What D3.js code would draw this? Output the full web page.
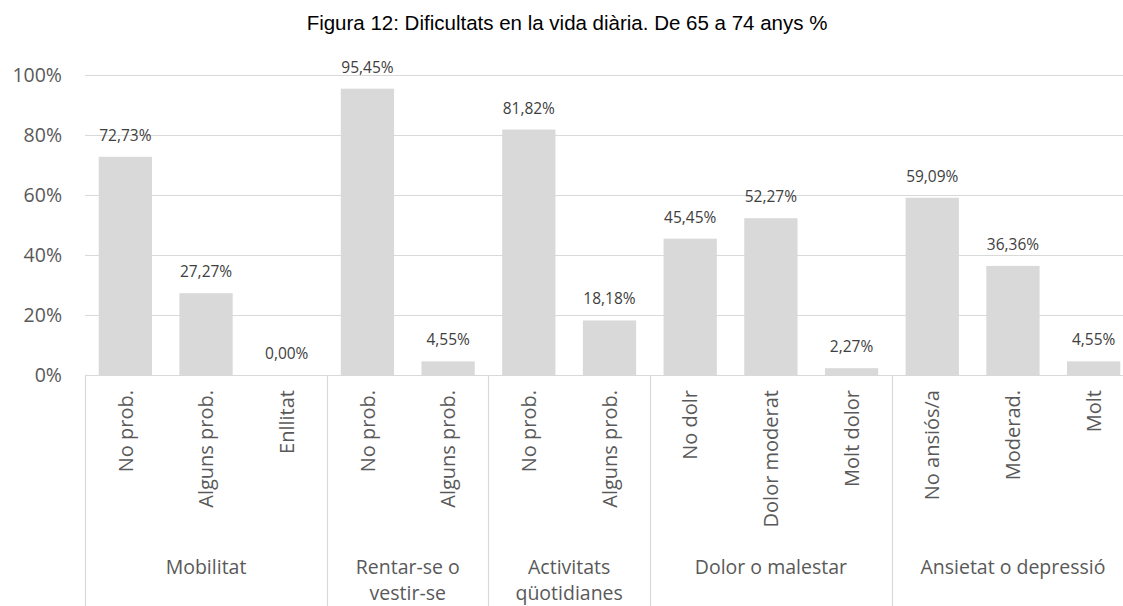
<!DOCTYPE html>
<html><head><meta charset="utf-8">
<script src="https://cdn.jsdelivr.net/npm/d3@7"></script>
<style>
html,body{margin:0;padding:0;background:#fff;}
svg{display:block;}
</style></head>
<body>
<svg id="chart" width="1123" height="606"></svg>
<script>
const title = "Figura 12: Dificultats en la vida diària. De 65 a 74 anys %";
const categories = ["No prob.","Alguns prob.","Enllitat","No prob.","Alguns prob.","No prob.","Alguns prob.","No dolr","Dolor moderat","Molt dolor","No ansiós/a","Moderad.","Molt"];
const values = [72.73,27.27,0.00,95.45,4.55,81.82,18.18,45.45,52.27,2.27,59.09,36.36,4.55];
const groupNames = [["Mobilitat"],["Rentar-se o","vestir-se"],["Activitats","qüotidianes"],["Dolor o malestar"],["Ansietat o depressió"]];
const groupSizes = [3,2,2,3,3];
const yTicks = [0,20,40,60,80,100];

(function(){
const svg = d3.select("#chart");
const pL = 85, pR = 1134, pT = 75, pB = 375;
const idx = d3.range(categories.length);
const x = d3.scaleBand().domain(idx).range([pL, pR]).paddingInner(0.34).paddingOuter(0.17);
const y = d3.scaleLinear().domain([0,100]).range([pB, pT]);
const grid = "#d9d9d9", txt = "#595959", font = "'Open Sans', sans-serif";
const fmt = v => v.toFixed(2).replace(".", ",") + "%";

svg.append("text").attr("x", 567).attr("y", 30).attr("text-anchor","middle")
  .attr("font-family","'Liberation Sans', Arial, sans-serif").attr("font-size",20.5).attr("fill","#000").text(title);

svg.append("g").selectAll("line").data(yTicks).join("line")
  .attr("x1", pL).attr("x2", 1123).attr("y1", d => Math.round(y(d))+0.5).attr("y2", d => Math.round(y(d))+0.5)
  .attr("stroke", grid).attr("stroke-width", 1.2);

svg.append("g").selectAll("text").data(yTicks).join("text")
  .attr("x", 62).attr("y", d => y(d)).attr("dy","0.36em").attr("text-anchor","end")
  .attr("font-family", font).attr("font-size", 19.5).attr("fill", txt).text(d => d + "%");

svg.append("g").selectAll("rect").data(idx).join("rect")
  .attr("x", i => x(i)).attr("width", x.bandwidth())
  .attr("y", i => y(values[i])).attr("height", i => y(0) - y(values[i]))
  .attr("fill", "#d9d9d9");

svg.append("g").selectAll("text").data(idx).join("text")
  .attr("x", i => x(i) + x.bandwidth()/2).attr("y", i => y(values[i]) - 16)
  .attr("text-anchor","middle").attr("font-family", font).attr("font-size", 15.5).attr("fill", "#404040")
  .text(i => fmt(values[i]));

svg.append("g").selectAll("text").data(idx).join("text")
  .attr("transform", i => `translate(${x(i) + x.bandwidth()/2},390) rotate(-90)`)
  .attr("dy","0.36em").attr("text-anchor","end")
  .attr("font-family", font).attr("font-size", 20).attr("fill", txt).text(i => categories[i]);

const step = x.step();
const starts = [0];
groupSizes.forEach((s,k) => starts.push(starts[k] + s));
const bx = k => pL + starts[k] * step;
svg.append("g").selectAll("line").data(d3.range(starts.length)).join("line")
  .attr("x1", k => Math.round(bx(k))+0.5).attr("x2", k => Math.round(bx(k))+0.5)
  .attr("y1", pB).attr("y2", 606).attr("stroke", grid).attr("stroke-width", 1.2);

const gl = svg.append("g");
groupNames.forEach((lines, k) => {
  const cx = (bx(k) + bx(k+1)) / 2;
  lines.forEach((ln, j) => {
    gl.append("text").attr("x", cx).attr("y", 567 + j*26).attr("dy","0.36em")
      .attr("text-anchor","middle").attr("font-family", font).attr("font-size", 19.5).attr("fill", txt).text(ln);
  });
});
})();
</script>
</body></html>
